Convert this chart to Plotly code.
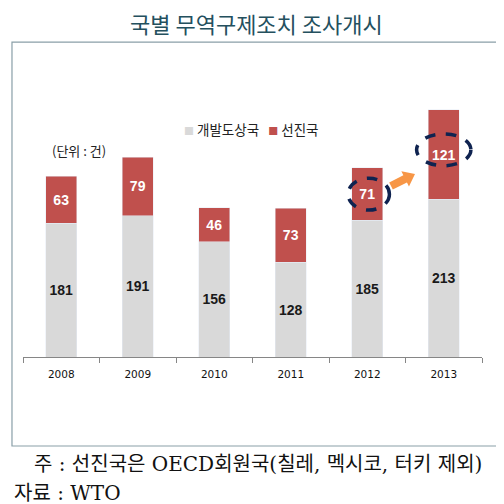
import plotly.graph_objects as go

# 데이터
years = ['2008', '2009', '2010', '2011', '2012', '2013']
developing = [181, 191, 156, 128, 185, 213]
developed = [63, 79, 46, 73, 71, 121]

gray = '#D9D9D9'
red = '#C0504D'
kfont = 'Noto Sans CJK KR'
sfont = 'DejaVu Serif, Noto Sans CJK KR'

fig = go.Figure()
fig.add_trace(go.Bar(
    x=years, y=developing, name='개발도상국', marker_color=gray,
    text=developing, textposition='inside', insidetextanchor='middle',
    textangle=0, constraintext='none',
    textfont=dict(color='#1a1a1a', size=14, family='Liberation Sans'),
    texttemplate='<b>%{text}</b>',
))
fig.add_trace(go.Bar(
    x=years, y=developed, name='선진국', marker_color=red,
    text=developed, textposition='inside', insidetextanchor='middle',
    textangle=0, constraintext='none',
    textfont=dict(color='white', size=14, family='Liberation Sans'),
    texttemplate='<b>%{text}</b>',
))


# 화면 픽셀 -> 데이터 좌표 (플롯 영역: x 23~482, y 61~357)
def to_data(px, py):
    return (px - 23) / 76.5 - 0.5, (357 - py) / 0.74


# 점선 타원 강조
for cx, cy, w, h in [(4.02, 220, 0.27, 21.5), (5.0, 280, 0.355, 21.5)]:
    fig.add_shape(type='circle', xref='x', yref='y',
                  x0=cx - w, x1=cx + w, y0=cy - h, y1=cy + h,
                  line=dict(color='#0F2350', width=3.5, dash='dash'))

# 주황 블록 화살표
tail = (391, 186)
tip = (415, 174)
L = ((tip[0] - tail[0]) ** 2 + (tip[1] - tail[1]) ** 2) ** 0.5
ux, uy = (tip[0] - tail[0]) / L, (tip[1] - tail[1]) / L
nx, ny = -uy, ux
hb = (tip[0] - ux * 11, tip[1] - uy * 11)
pts = [
    (tail[0] + nx * 4, tail[1] + ny * 4),
    (hb[0] + nx * 4, hb[1] + ny * 4),
    (hb[0] + nx * 8.5, hb[1] + ny * 8.5),
    tip,
    (hb[0] - nx * 8.5, hb[1] - ny * 8.5),
    (hb[0] - nx * 4, hb[1] - ny * 4),
    (tail[0] - nx * 4, tail[1] - ny * 4),
]
path = 'M ' + ' L '.join('%f,%f' % to_data(*p) for p in pts) + ' Z'
fig.add_shape(type='path', path=path, xref='x', yref='y',
              fillcolor='#F79646', line=dict(width=0))

# 외곽 테두리
fig.add_shape(type='rect', xref='paper', yref='paper',
              x0=-0.024, x1=1.039, y0=-0.3007, y1=1.064,
              line=dict(color='#8A9FA8', width=1.2), layer='below')

# 범례
fig.add_annotation(
    text='<span style="color:#D9D9D9;font-size:10px">■</span> 개발도상국'
         '   <span style="color:#C0504D;font-size:10px">■</span> 선진국',
    xref='paper', yref='paper', x=0.497, y=0.770, showarrow=False,
    xanchor='center', yanchor='middle',
    font=dict(family=kfont, size=13.5, color='#222'))

fig.add_annotation(text='(단위 : 건)', xref='paper', yref='paper',
                   x=0.059, y=0.699, showarrow=False, xanchor='left', yanchor='middle',
                   font=dict(family=kfont, size=13, color='#222'))

fig.add_annotation(text='국별 무역구제조치 조사개시', xref='paper', yref='paper',
                   x=0.508, y=1.127, showarrow=False, xanchor='center', yanchor='middle',
                   font=dict(family=kfont, size=22, color='#24505E'))

fig.add_annotation(text='주 : 선진국은 OECD회원국(칠레, 멕시코, 터키 제외)',
                   xref='paper', yref='paper', x=0.0196, y=-0.3615,
                   showarrow=False, xanchor='left', yanchor='middle',
                   font=dict(family=sfont, size=20, color='#111'))
fig.add_annotation(text='자료 : WTO', xref='paper', yref='paper',
                   x=-0.024, y=-0.4595, showarrow=False, xanchor='left', yanchor='middle',
                   font=dict(family=sfont, size=20, color='#111'))

# 페이지 기본 여백(8px)을 고려한 여백
fig.update_layout(
    width=504, height=504,
    margin=dict(l=15, r=30, t=53, b=155),
    barmode='stack', bargap=0.6,
    plot_bgcolor='white', paper_bgcolor='white',
    showlegend=False,
    font=dict(family=kfont),
)
fig.update_xaxes(showline=True, linecolor='#868686', linewidth=1,
                 ticks='outside', tickson='boundaries', ticklen=5, tickcolor='#868686',
                 tickfont=dict(family='DejaVu Sans', size=10.5, color='#111'),
                 ticklabelstandoff=7, showgrid=False)
fig.update_yaxes(range=[0, 400], visible=False, showgrid=False)

fig.write_html('out.html')
